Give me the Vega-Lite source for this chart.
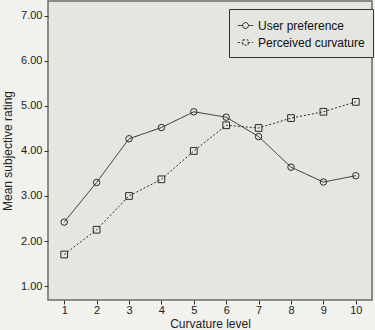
{
  "$schema": "https://vega.github.io/schema/vega-lite/v6.json",
  "autosize": {"type": "none"},
  "width": 324,
  "height": 299,
  "padding": {"left": 48, "top": 1, "right": 3, "bottom": 30},
  "background": "#f1f1ed",
  "config": {
    "view": {"fill": "#e5e5e1", "stroke": "#6a6a6a", "strokeWidth": 1.5},
    "font": "Liberation Sans",
    "axis": {
      "labelFont": "Liberation Sans",
      "titleFont": "Liberation Sans",
      "labelColor": "#222",
      "titleColor": "#222",
      "tickColor": "#333",
      "domain": false,
      "grid": false,
      "tickSize": 4,
      "labelFontSize": 11,
      "titleFontSize": 12,
      "titleFontWeight": "normal"
    }
  },
  "data": {
    "values": [
      {"level": 1, "series": "User preference", "rating": 2.42},
      {"level": 2, "series": "User preference", "rating": 3.30},
      {"level": 3, "series": "User preference", "rating": 4.27},
      {"level": 4, "series": "User preference", "rating": 4.52},
      {"level": 5, "series": "User preference", "rating": 4.87},
      {"level": 6, "series": "User preference", "rating": 4.75},
      {"level": 7, "series": "User preference", "rating": 4.32},
      {"level": 8, "series": "User preference", "rating": 3.64},
      {"level": 9, "series": "User preference", "rating": 3.31},
      {"level": 10, "series": "User preference", "rating": 3.45},
      {"level": 1, "series": "Perceived curvature", "rating": 1.70},
      {"level": 2, "series": "Perceived curvature", "rating": 2.25},
      {"level": 3, "series": "Perceived curvature", "rating": 3.00},
      {"level": 4, "series": "Perceived curvature", "rating": 3.37},
      {"level": 5, "series": "Perceived curvature", "rating": 4.00},
      {"level": 6, "series": "Perceived curvature", "rating": 4.57},
      {"level": 7, "series": "Perceived curvature", "rating": 4.51},
      {"level": 8, "series": "Perceived curvature", "rating": 4.73},
      {"level": 9, "series": "Perceived curvature", "rating": 4.87},
      {"level": 10, "series": "Perceived curvature", "rating": 5.09}
    ]
  },
  "encoding": {
    "x": {
      "field": "level", "type": "quantitative",
      "scale": {"domain": [0.5, 10.5], "nice": false, "zero": false},
      "axis": {"values": [1,2,3,4,5,6,7,8,9,10], "title": "Curvature level", "labelPadding": 0, "labelBaseline": "top", "titleY": 27, "titleBaseline": "alphabetic"}
    },
    "y": {
      "field": "rating", "type": "quantitative",
      "scale": {"domain": [0.69, 7.33], "nice": false, "zero": false},
      "axis": {"values": [1,2,3,4,5,6,7], "format": ".2f", "title": "Mean subjective rating", "titlePadding": 6, "labelPadding": 2}
    }
  },
  "layer": [
    {
      "mark": {"type": "line", "color": "#2a2a2a", "strokeWidth": 1},
      "encoding": {
        "strokeDash": {
          "field": "series", "type": "nominal",
          "scale": {"domain": ["User preference", "Perceived curvature"], "range": [[1, 0], [2, 2]]},
          "legend": {
            "title": null,
            "orient": "none",
            "legendX": 181,
            "legendY": 8,
            "fillColor": "#e5e5e1",
            "strokeColor": "#333",
            "padding": 8,
            "labelFont": "Liberation Sans",
            "labelFontSize": 12,
            "labelColor": "#111",
            "symbolSize": 240,
            "symbolStrokeWidth": 1,
            "symbolStrokeColor": "#222",
            "symbolFillColor": "transparent",
            "rowPadding": 2,
            "labelOffset": 4,
            "encode": {
              "symbols": {
                "update": {
                  "shape": {"signal": "datum.value == 'User preference' ? 'M-1,0H-0.38M0.38,0H1M-0.38,0A0.38,0.38 0 1,0 0.38,0A0.38,0.38 0 1,0 -0.38,0' : 'M-1,0H-0.34M0.34,0H1M-0.34,-0.34H0.34V0.34H-0.34Z'"},
                  "fill": {"value": "transparent"},
                  "stroke": {"value": "#222"}
                }
              }
            }
          }
        }
      }
    },
    {
      "transform": [{"filter": "datum.series == 'User preference'"}],
      "mark": {"type": "point", "shape": "circle", "filled": false, "color": "#2a2a2a", "strokeWidth": 1, "opacity": 1, "size": 42}
    },
    {
      "transform": [{"filter": "datum.series == 'Perceived curvature'"}],
      "mark": {"type": "point", "shape": "square", "filled": false, "color": "#2a2a2a", "strokeWidth": 1, "opacity": 1, "size": 45}
    }
  ]
}
